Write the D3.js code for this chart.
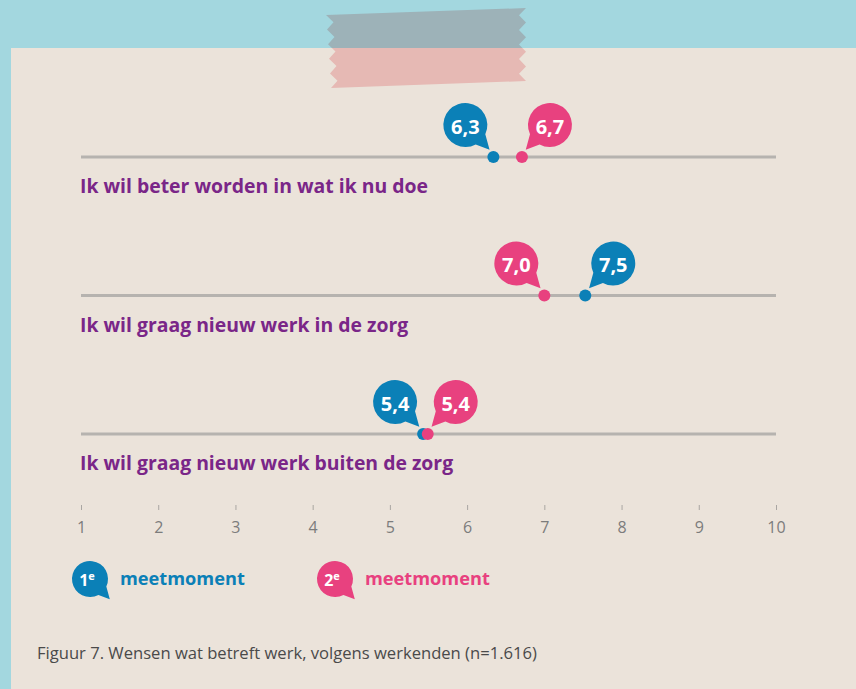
<!DOCTYPE html>
<html><head><meta charset="utf-8">
<script src="https://cdn.jsdelivr.net/npm/d3@7/dist/d3.min.js"></script>
<style>html,body{margin:0;padding:0;background:#a3d7df;}svg{display:block;}</style>
</head><body>
<svg id="chart" width="856" height="689"></svg>
<script>
// ---- data ----
const categories = ["Ik wil beter worden in wat ik nu doe", "Ik wil graag nieuw werk in de zorg", "Ik wil graag nieuw werk buiten de zorg"];
const moment1 = [6.34, 7.53, 5.43];
const moment2 = [6.71, 7.0, 5.49];
const moment1Labels = ["6,3", "7,5", "5,4"];
const moment2Labels = ["6,7", "7,0", "5,4"];
const ticks = [1, 2, 3, 4, 5, 6, 7, 8, 9, 10];
const seriesNames = ["meetmoment", "meetmoment"];
const seriesBadges = ["1", "2"];
const caption = "Figuur 7. Wensen wat betreft werk, volgens werkenden (n=1.616)";

// ---- style ----
const C = {teal: "#a3d7df", paper: "#ebe3da", blue: "#0b80b7", pink: "#e8417f", purple: "#7a2688",
           line: "#b6b3af", tick: "#7c7c7c", caption: "#4a4a4a", tapeTop: "#9db2b8", tapeBot: "#e6b9b4"};
const F = "'Open Sans', 'Noto Sans', sans-serif";

const svg = d3.select("#chart");
svg.append("rect").attr("width", 856).attr("height", 689).attr("fill", C.teal);
svg.append("rect").attr("x", 11).attr("y", 48).attr("width", 845).attr("height", 641).attr("fill", C.paper);

// tape
(function tape() {
  const pts = [];
  const x0 = 326, x1 = 526, y0 = 15, h = 73, n = 5, amp = 7, slope = -7 / 200;
  pts.push([x0, y0], [x1, y0 + slope * (x1 - x0)]);
  for (let i = 1; i <= 2 * n; i++) {
    const yy = y0 + slope * (x1 - x0) + h * i / (2 * n);
    pts.push([x1 - (i % 2 ? amp : 0), yy]);
  }
  pts.push([x0 + 5, y0 + h]);
  for (let i = 2 * n - 1; i >= 1; i--) {
    const yy = y0 + h * i / (2 * n);
    pts.push([x0 + (i % 2 ? amp : 0) + 5 * i / (2 * n), yy]);
  }
  const defs = svg.append("defs");
  defs.append("clipPath").attr("id", "cTop").append("rect").attr("x", 0).attr("y", 0).attr("width", 856).attr("height", 48);
  defs.append("clipPath").attr("id", "cBot").append("rect").attr("x", 0).attr("y", 48).attr("width", 856).attr("height", 100);
  const d = "M" + pts.map(p => p.join(",")).join("L") + "Z";
  svg.append("path").attr("d", d).attr("fill", C.tapeTop).attr("clip-path", "url(#cTop)");
  svg.append("path").attr("d", d).attr("fill", C.tapeBot).attr("clip-path", "url(#cBot)");
})();

// ---- scales ----
const x = d3.scaleLinear().domain([1, 10]).range([81, 776]);
const y = d3.scalePoint().domain(categories).range([157, 434]);

function bubblePath(r, dir) {
  const a1 = 25 * Math.PI / 180, a2 = 62 * Math.PI / 180;
  const p1 = [dir * r * Math.cos(a1), r * Math.sin(a1)];
  const p2 = [dir * r * Math.cos(a2), r * Math.sin(a2)];
  const tip = [dir * r * 1.1, r * 1.12];
  const sweep = dir > 0 ? 0 : 1;
  return `M${p1[0]},${p1[1]} A${r},${r} 0 1 ${sweep} ${p2[0]},${p2[1]} L${tip[0]},${tip[1]} Z`;
}

const rows = categories.map((c, i) => ({cat: c, v1: moment1[i], v2: moment2[i], l1: moment1Labels[i], l2: moment2Labels[i]}));

const g = svg.append("g");
const row = g.selectAll("g.row").data(rows).join("g").attr("class", "row");

row.append("line")
  .attr("x1", x(1)).attr("x2", x(10))
  .attr("y1", d => y(d.cat)).attr("y2", d => y(d.cat))
  .attr("stroke", C.line).attr("stroke-width", 3);

row.append("text")
  .attr("x", x(1) - 1).attr("y", d => y(d.cat) + 36)
  .attr("fill", C.purple).attr("font-family", F).attr("font-weight", 700).attr("font-size", 19.4)
  .text(d => d.cat);

const R = 22;
function addMarker(sel, key, lab, color, other) {
  sel.each(function(d) {
    const gg = d3.select(this);
    const v = d[key], o = d[other];
    const dir = v < o ? -1 : 1;
    const cx = x(v) + dir * 28, cy = y(d.cat) - 32;
    gg.append("path").attr("d", bubblePath(R, -dir)).attr("transform", `translate(${cx},${cy})`).attr("fill", color);
    gg.append("text").attr("x", cx).attr("y", cy + 1).attr("text-anchor", "middle").attr("dominant-baseline", "central")
      .attr("fill", "#fff").attr("font-family", F).attr("font-weight", 700).attr("font-size", 20).text(d[lab]);
  });
}
addMarker(row, "v1", "l1", C.blue, "v2");
addMarker(row, "v2", "l2", C.pink, "v1");

row.append("circle").attr("cx", d => x(d.v1)).attr("cy", d => y(d.cat)).attr("r", 6).attr("fill", C.blue);
row.append("circle").attr("cx", d => x(d.v2)).attr("cy", d => y(d.cat)).attr("r", 6).attr("fill", C.pink);

// ---- axis ----
const axis = d3.axisBottom(x).tickValues(ticks).tickSize(5).tickPadding(12).tickFormat(d3.format("d"));
const ax = svg.append("g").attr("transform", "translate(0,505)").call(axis);
ax.select(".domain").remove();
ax.selectAll(".tick line").attr("stroke", "#a9a6a2");
ax.selectAll(".tick text").attr("fill", C.tick).attr("font-family", F).attr("font-size", 16);

// ---- legend ----
const legendColors = [C.blue, C.pink];
const legendX = [90, 335];
const lg = svg.append("g").selectAll("g").data(seriesNames).join("g")
  .attr("transform", (d, i) => `translate(${legendX[i]},579)`);
lg.append("path").attr("d", bubblePath(18, 1)).attr("fill", (d, i) => legendColors[i]);
const bt = lg.append("text").attr("x", -3).attr("y", 1).attr("text-anchor", "middle").attr("dominant-baseline", "central")
  .attr("fill", "#fff").attr("font-family", F).attr("font-weight", 700).attr("font-size", 16);
bt.append("tspan").text((d, i) => seriesBadges[i]);
bt.append("tspan").attr("dy", -5).attr("font-size", 11).text("e");
lg.append("text").attr("x", 30).attr("y", 6).attr("fill", (d, i) => legendColors[i])
  .attr("font-family", F).attr("font-weight", 700).attr("font-size", 18.2).text(d => d);

// ---- caption ----
svg.append("text").attr("x", 37).attr("y", 659).attr("fill", C.caption)
  .attr("font-family", F).attr("font-size", 16.6).text(caption);
</script>
</body></html>
